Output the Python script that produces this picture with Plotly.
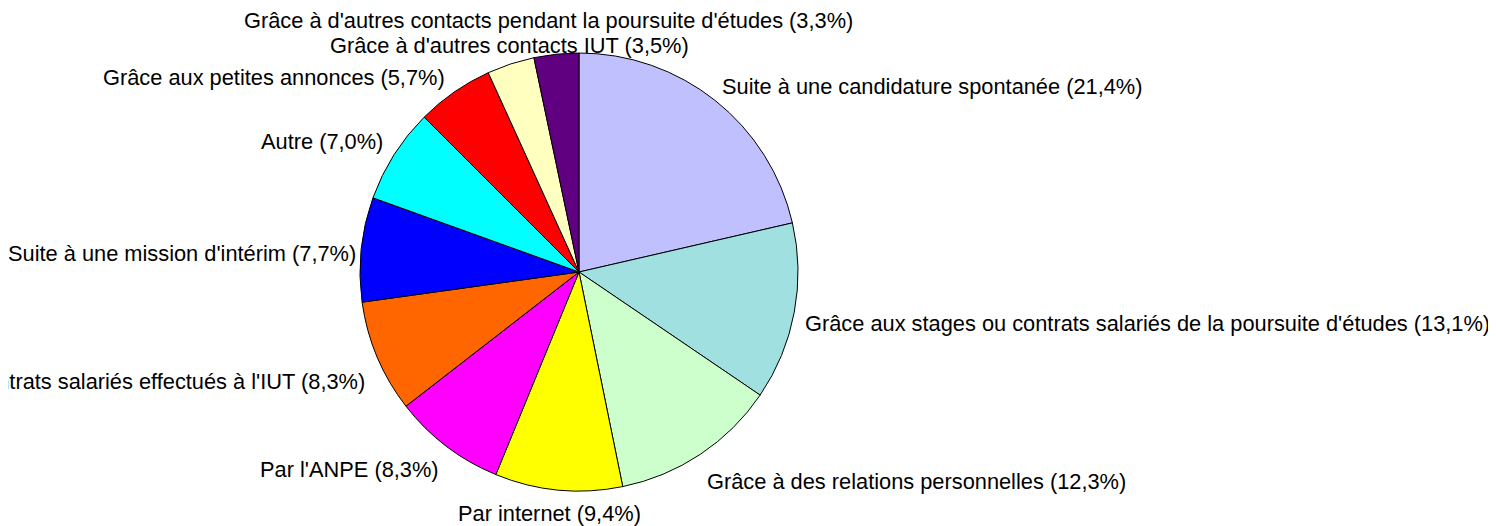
import math
import plotly.graph_objects as go

# ---- data ----
categories = [
    "Suite à une candidature spontanée",
    "Grâce aux stages ou contrats salariés de la poursuite d'études",
    "Grâce à des relations personnelles",
    "Par internet",
    "Par l'ANPE",
    "Grâce aux stages ou contrats salariés effectués à l'IUT",
    "Suite à une mission d'intérim",
    "Autre",
    "Grâce aux petites annonces",
    "Grâce à d'autres contacts IUT",
    "Grâce à d'autres contacts pendant la poursuite d'études",
]
values = [21.4, 13.1, 12.3, 9.4, 8.3, 8.3, 7.7, 7.0, 5.7, 3.5, 3.3]

# ---- styles / layout ----
colors = ["#C0C0FF", "#A0E0E0", "#CCFFCC", "#FFFF00", "#FF00FF", "#FF6600",
          "#0000FF", "#00FFFF", "#FF0000", "#FFFFC0", "#600080"]
# label nudges (dx, dy) in pixels relative to radial placement
label_nudge = [(-2, -6), (-2, 9), (-1, 18), (-8, 13), (1, 14), (0, 20),
               (8, 5), (0, -7), (-1, -5), (2, -8), (-7, -23)]

PAGE_MARGIN = 8          # default body margin of the html page
W, H = 1496 - PAGE_MARGIN, 526 - PAGE_MARGIN
cx, cy, R = 579 - PAGE_MARGIN, 272 - PAGE_MARGIN, 219
label_r = 230
font = dict(family="Liberation Sans, Arial, sans-serif", size=21.8, color="black")

fig = go.Figure(go.Pie(
    labels=categories,
    values=values,
    sort=False,
    direction="clockwise",
    rotation=0,
    marker=dict(colors=colors, line=dict(color="black", width=1)),
    textinfo="none",
    hoverinfo="label+percent",
    showlegend=False,
    domain=dict(x=[(cx - R) / W, (cx + R) / W],
                y=[(H - cy - R) / H, (H - cy + R) / H]),
))

total = sum(values)
cum = 0.0
annotations = []
for name, v, (dx, dy) in zip(categories, values, label_nudge):
    mid = (cum + v / 2) / total * 2 * math.pi
    cum += v
    s, c = math.sin(mid), math.cos(mid)
    px = cx + label_r * s + dx
    py = cy - label_r * c + dy
    if s > 0.4:
        xa = "left"
    elif s < -0.4:
        xa = "right"
    else:
        xa = "center"
    pct = f"{v / total * 100:.1f}".replace(".", ",")
    annotations.append(dict(
        x=px / W, y=1 - py / H, xref="paper", yref="paper",
        text=f"{name} ({pct}%)", showarrow=False,
        xanchor=xa, yanchor="middle", font=font,
    ))

fig.update_layout(
    width=W, height=H,
    margin=dict(l=0, r=0, t=0, b=0),
    paper_bgcolor="white", plot_bgcolor="white",
    annotations=annotations,
)

fig.write_html("out.html")
